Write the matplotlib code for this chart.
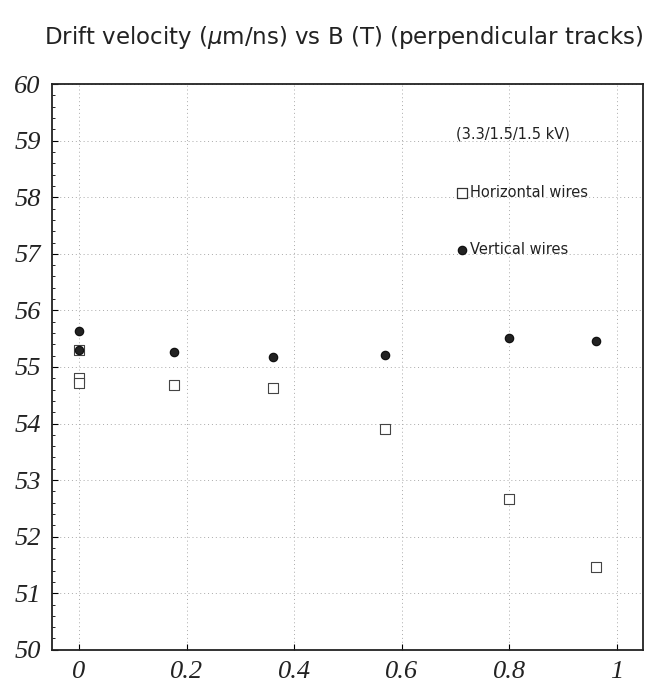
import matplotlib.pyplot as plt
from matplotlib.ticker import MultipleLocator

# B field (T) and drift velocity (um/ns)
b_horizontal = [0.0, 0.0, 0.0, 0.177, 0.36, 0.569, 0.80, 0.96]
v_horizontal = [55.30, 54.80, 54.72, 54.68, 54.63, 53.91, 52.66, 51.47]

b_vertical = [0.0, 0.0, 0.177, 0.36, 0.569, 0.80, 0.96]
v_vertical = [55.63, 55.30, 55.26, 55.18, 55.21, 55.51, 55.46]

x_ticks = [0, 0.2, 0.4, 0.6, 0.8, 1]
x_tick_labels = ["0", "0.2", "0.4", "0.6", "0.8", "1"]
y_ticks = list(range(50, 61))

fig = plt.figure(figsize=(6.58, 6.84), dpi=100)
ax = fig.add_axes([0.079, 0.05, 0.898, 0.827])

ax.set_xlim(-0.05, 1.048)
ax.set_ylim(50, 60)

ax.grid(True, linestyle=(0, (1, 3)), color="#aaaaaa", linewidth=0.7)
ax.set_axisbelow(True)

ax.scatter(b_horizontal, v_horizontal, marker="s", s=50, facecolors="white",
           edgecolors="#444444", linewidths=0.8, zorder=3)
ax.scatter(b_vertical, v_vertical, marker="o", s=36, facecolors="#222222",
           edgecolors="#111111", linewidths=0.9, zorder=4)

ax.set_xticks(x_ticks)
ax.set_xticklabels(x_tick_labels)
ax.set_yticks(y_ticks)
ax.yaxis.set_minor_locator(MultipleLocator(0.2))
ax.tick_params(direction="in", length=4, width=0.8)
ax.tick_params(which="minor", direction="in", length=2, width=0.6)
for lab in ax.get_xticklabels() + ax.get_yticklabels():
    lab.set_fontfamily("Liberation Serif")
    lab.set_fontstyle("italic")
    lab.set_fontsize(19)
    lab.set_color("#222222")
ax.tick_params(axis="x", pad=8)
ax.tick_params(axis="y", pad=8)

for side in ["left", "bottom", "right", "top"]:
    ax.spines[side].set_linewidth(1.3)
    ax.spines[side].set_color("#222222")

# legend drawn by hand inside the plot
ax.text(0.70, 59.11, "(3.3/1.5/1.5 kV)", fontsize=10.5, va="center", color="#222222")
ax.scatter([0.712], [58.08], marker="s", s=50, facecolors="white",
           edgecolors="#333333", linewidths=0.9, zorder=5)
ax.text(0.727, 58.08, "Horizontal wires", fontsize=10.5, va="center", color="#222222")
ax.scatter([0.712], [57.07], marker="o", s=36, facecolors="#222222",
           edgecolors="#111111", linewidths=0.9, zorder=5)
ax.text(0.727, 57.07, "Vertical wires", fontsize=10.5, va="center", color="#222222")

fig.text(0.523, 0.945, r"Drift velocity ($\mu$m/ns) vs B (T) (perpendicular tracks)",
         ha="center", va="center", fontsize=16.5, color="#222222")

plt.savefig("out.png", dpi=100)
